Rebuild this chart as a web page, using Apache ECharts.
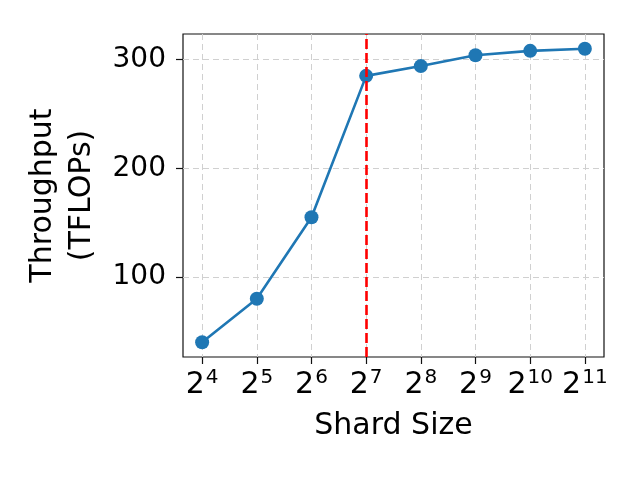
<!DOCTYPE html>
<html>
<head>
<meta charset="utf-8">
<script src="https://cdn.jsdelivr.net/npm/echarts@6/dist/echarts.min.js"></script>
<style>html,body{margin:0;padding:0;background:#fff}#c{width:640px;height:480px}</style>
</head>
<body>
<div id="c"></div>
<script>
const exponents = [4, 5, 6, 7, 8, 9, 10, 11];
const throughput = [40, 80, 155, 285, 294, 304, 308, 310];
const yTicks = [100, 200, 300];
const markerExponent = 7;
const xTitle = 'Shard Size';
const yTitle = 'Throughput\n(TFLOPs)';

const chart = echarts.init(document.getElementById('c'), null, {renderer: 'canvas'});
const font = 'DejaVu Sans';
chart.setOption({
  animation: false,
  backgroundColor: '#fff',
  grid: {left: 183, right: 36, top: 34, bottom: 123, show: true, borderColor: '#111', borderWidth: 1.2, backgroundColor: 'transparent'},
  xAxis: {
    type: 'value', min: 3.65, max: 11.35,
    name: xTitle, nameLocation: 'middle', nameGap: 54,
    nameTextStyle: {fontFamily: font, fontSize: 30, color: '#000'},
    axisLine: {show: false},
    axisTick: {show: true, customValues: exponents, length: 7, lineStyle: {color: '#111', width: 1.2}},
    axisLabel: {customValues: exponents, margin: 11, formatter: v => '{b|2}{s|' + v + '}',
      rich: {b: {fontFamily: font, fontSize: 30, color: '#000'}, s: {fontFamily: font, fontSize: 20, color: '#000', padding: [0, 0, 15, 1]}}},
    splitLine: {show: true, lineStyle: {color: '#d0d0d0', type: [6, 4], width: 1}}
  },
  yAxis: {
    type: 'value', min: 26.5, max: 323.5,
    name: yTitle, nameLocation: 'middle', nameGap: 75, nameRotate: 90,
    nameTextStyle: {fontFamily: font, fontSize: 30, color: '#000', lineHeight: 39, align: 'center'},
    axisLine: {show: false},
    axisTick: {show: true, customValues: yTicks, length: 7, lineStyle: {color: '#111', width: 1.2}},
    axisLabel: {customValues: yTicks, margin: 17, fontFamily: font, fontSize: 28, color: '#000'},
    splitLine: {show: true, lineStyle: {color: '#d0d0d0', type: [6, 4], width: 1}}
  },
  series: [{
    type: 'line',
    data: exponents.map((e, i) => [e, throughput[i]]),
    color: '#1f77b4',
    lineStyle: {width: 2.6, color: '#1f77b4'},
    symbol: 'circle', symbolSize: 14,
    itemStyle: {color: '#1f77b4'},
    markLine: {
      silent: true, symbol: 'none', label: {show: false},
      lineStyle: {color: '#ff0000', type: [10, 4], width: 2.6},
      data: [{xAxis: markerExponent}]
    },
    z: 3
  }]
});
</script>
</body>
</html>
